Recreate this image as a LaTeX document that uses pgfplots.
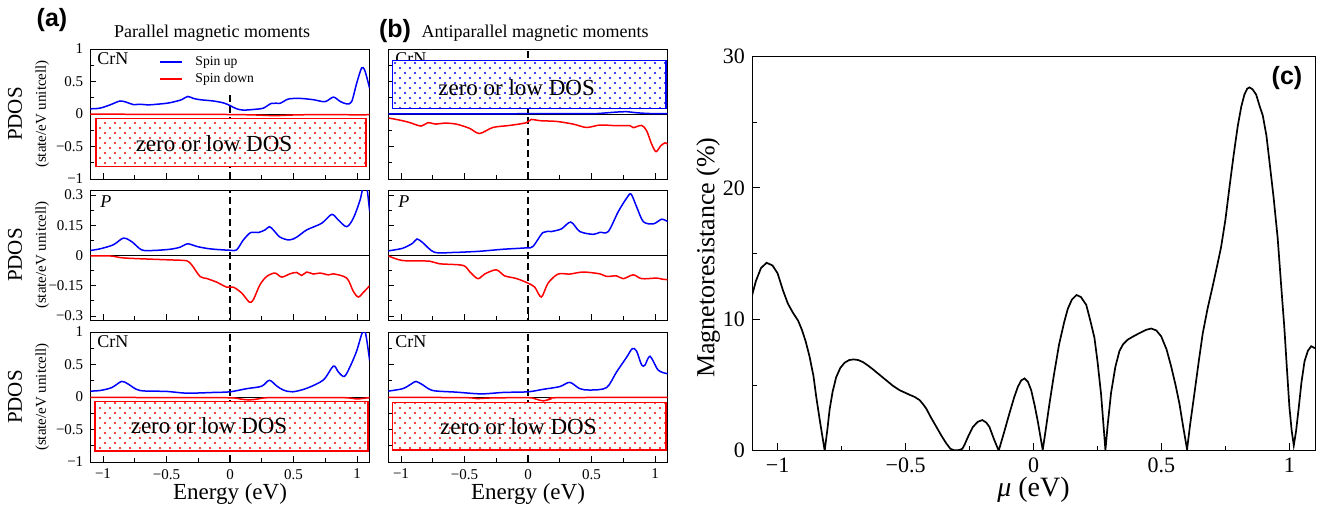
\documentclass[border=0pt]{standalone}
\usepackage{fontspec}
\setmainfont{Liberation Serif}
\newfontfamily\sansbf{Liberation Sans}
\usepackage{pgfplots}
\pgfplotsset{compat=1.18}
\usetikzlibrary{patterns}
\pgfdeclarepatternformonly{mydots}{\pgfqpoint{-0.7pt}{-0.7pt}}{\pgfqpoint{4.3pt}{4.3pt}}{\pgfqpoint{5pt}{5pt}}{%
  \pgfpathcircle{\pgfqpoint{0pt}{0pt}}{.6pt}%
  \pgfpathcircle{\pgfqpoint{2.5pt}{2.5pt}}{.6pt}%
  \pgfusepath{fill}}
\pgfplotsset{
  pdos/.style={scale only axis, width=139.7pt, height=65pt, xmin=-1.1, xmax=1.1,
    anchor=north west,
    xtick={-1,-0.5,0,0.5,1}, minor xtick={-0.75,-0.25,0.25,0.75},
    tick pos=left, tick align=inside, major tick length=3pt, minor tick length=1.8pt,
    every tick/.append style={black, line width=0.45pt},
    xticklabels={},
    ticklabel style={font=\fontsize{7.5}{8}\selectfont},
    ylabel style={at={(axis description cs:-0.221,0.5)}, anchor=center, align=center},
    xlabel style={at={(axis description cs:0.5,-0.245)}, anchor=center, font=\fontsize{11.5}{12}\selectfont},
  },
  fullr/.style={ymin=-1, ymax=1, ytick={-1,-0.5,0,0.5,1}, minor ytick={-0.75,-0.25,0.25,0.75}},
  pr/.style={ymin=-0.32, ymax=0.325, ytick={-0.3,-0.15,0,0.15,0.3}, minor ytick={-0.225,-0.075,0.075,0.225}},
  fulllab/.style={yticklabels={−1,−0.5,0,0.5,1}},
  plab/.style={yticklabels={−0.3,−0.15,0,0.15,0.3}},
  nolab/.style={yticklabels={}},
  pdosylab/.style={ylabel={\fontsize{10.5}{11}\selectfont PDOS\\\fontsize{7.5}{11}\selectfont (state/eV unitcell)}},
  energy/.style={xticklabels={−1,−0.5,0,0.5,1}, xlabel={Energy (eV)}},
  up/.style={blue, line width=0.75pt, smooth, tension=0.5, no marks, forget plot},
  dn/.style={red, line width=0.75pt, smooth, tension=0.5, no marks, forget plot},
}
\newcommand{\refl}{%
  \addplot[black, line width=0.45pt, forget plot] coordinates {(-1.1,0) (1.1,0)};
  \addplot[black, line width=0.6pt, dash pattern=on 3.5pt off 2pt, forget plot] coordinates {(0,-1) (0,1)};}
\newcommand{\zbox}[5]{%
  \fill[white] (axis cs:#2,#3) rectangle (axis cs:#4,#5);
  \draw[#1, line width=0.6pt, pattern=mydots, pattern color=#1] (axis cs:#2,#3) rectangle (axis cs:#4,#5);}
\begin{document}
\begin{tikzpicture}
\useasboundingbox (0,0) rectangle (662.5pt,-254pt);
\node[font=\sansbf\bfseries\fontsize{12.5}{13}\selectfont] at (26pt,-10pt) {(a)};
\node[font=\sansbf\bfseries\fontsize{12.5}{13}\selectfont] at (197.5pt,-15.5pt) {(b)};
\node[font=\fontsize{9}{10}\selectfont] at (106pt,-16.5pt) {Parallel magnetic moments};
\node[font=\fontsize{9}{10}\selectfont] at (267.5pt,-16.5pt) {Antiparallel magnetic moments};

% ---------- (a) top
\begin{axis}[pdos, fullr, fulllab, pdosylab, at={(45.15pt,-24.5pt)}]
\refl
% legend background
\fill[white] (axis description cs:0.214,0.99) rectangle (axis description cs:0.615,0.655);
\addplot[up] coordinates {(-1.1,0.08) (-1.024,0.09) (-0.945,0.14) (-0.866,0.20) (-0.814,0.18) (-0.761,0.145) (-0.709,0.15) (-0.643,0.14) (-0.577,0.15) (-0.499,0.165) (-0.446,0.185) (-0.381,0.22) (-0.333,0.27) (-0.289,0.24) (-0.236,0.22) (-0.131,0.20) (-0.05,0.17) (0,0.13) (0.052,0.08) (0.105,0.06) (0.184,0.07) (0.262,0.09) (0.328,0.165) (0.394,0.165) (0.459,0.23) (0.551,0.24) (0.656,0.22) (0.748,0.19) (0.814,0.26) (0.866,0.195) (0.919,0.155) (0.958,0.19) (0.997,0.47) (1.037,0.71) (1.063,0.66) (1.1,0.39)};
\addplot[dn] coordinates {(-1.1,-0.003) (-0.5,-0.005) (0,-0.008) (0.2,-0.015) (0.35,-0.025) (0.5,-0.015) (0.7,-0.008) (0.9,-0.01) (1.0,-0.015) (1.1,-0.01)};
% legend keys
\draw[blue, line width=0.75pt] (axis description cs:0.25,0.9) -- (axis description cs:0.329,0.9);
\draw[red, line width=0.75pt] (axis description cs:0.25,0.769) -- (axis description cs:0.329,0.769);
\node[anchor=west, inner sep=0pt, font=\fontsize{6.8}{7}\selectfont] at (axis description cs:0.375,0.9) {Spin up};
\node[anchor=west, inner sep=0pt, font=\fontsize{6.8}{7}\selectfont] at (axis description cs:0.375,0.769) {Spin down};
\node[anchor=north west, inner sep=0pt, font=\fontsize{9}{10}\selectfont] at (axis description cs:0.024,0.975) {CrN};
\zbox{red}{-1.055}{-0.07}{1.071}{-0.81}
\node[font=\fontsize{11.5}{12}\selectfont] at (axis cs:-0.126,-0.45) {zero or low DOS};
\end{axis}

% ---------- (a) middle
\begin{axis}[pdos, pr, plab, pdosylab, at={(45.15pt,-95pt)}]
\refl
\addplot[up] coordinates {(-1.1,0.025) (-1.024,0.033) (-0.919,0.053) (-0.84,0.086) (-0.774,0.069) (-0.696,0.028) (-0.604,0.025) (-0.472,0.031) (-0.394,0.041) (-0.333,0.058) (-0.262,0.045) (-0.157,0.033) (0,0.026) (0.052,0.028) (0.105,0.077) (0.163,0.114) (0.223,0.114) (0.276,0.127) (0.31,0.143) (0.341,0.127) (0.394,0.091) (0.467,0.077) (0.525,0.091) (0.604,0.127) (0.722,0.16) (0.801,0.204) (0.853,0.176) (0.919,0.143) (0.971,0.185) (1.024,0.275) (1.055,0.36) (1.075,0.35) (1.1,0.218)};
\addplot[dn] coordinates {(-1.1,-0.002) (-0.945,-0.002) (-0.84,-0.012) (-0.63,-0.018) (-0.42,-0.023) (-0.341,-0.026) (-0.302,-0.046) (-0.236,-0.104) (-0.184,-0.114) (-0.105,-0.132) (-0.026,-0.157) (0.026,-0.157) (0.092,-0.186) (0.152,-0.231) (0.184,-0.219) (0.236,-0.145) (0.289,-0.104) (0.354,-0.087) (0.407,-0.107) (0.472,-0.091) (0.525,-0.084) (0.564,-0.099) (0.604,-0.082) (0.656,-0.092) (0.709,-0.087) (0.774,-0.096) (0.814,-0.091) (0.919,-0.112) (0.971,-0.178) (1.01,-0.206) (1.05,-0.183) (1.1,-0.15)};
\node[anchor=north west, inner sep=0pt, font=\itshape\fontsize{9}{10}\selectfont] at (axis description cs:0.035,0.96) {P};
\end{axis}

% ---------- (a) bottom
\begin{axis}[pdos, fullr, fulllab, pdosylab, energy, at={(45.15pt,-166pt)}]
\refl
\addplot[up] coordinates {(-1.1,0.091) (-1.024,0.10) (-0.932,0.144) (-0.853,0.24) (-0.801,0.198) (-0.709,0.10) (-0.499,0.086) (-0.341,0.059) (-0.131,0.07) (0,0.08) (0.131,0.128) (0.249,0.166) (0.31,0.257) (0.367,0.171) (0.42,0.107) (0.493,0.08) (0.604,0.134) (0.735,0.262) (0.814,0.476) (0.853,0.385) (0.9,0.316) (0.945,0.465) (0.997,0.706) (1.042,0.99) (1.068,0.973) (1.1,0.556)};
\addplot[dn] coordinates {(-1.1,-0.005) (-0.4,-0.01) (0,-0.012) (0.08,-0.03) (0.15,-0.045) (0.22,-0.03) (0.3,-0.01) (0.6,-0.008) (0.9,-0.01) (1.0,-0.03) (1.05,-0.02) (1.1,-0.01)};
\node[anchor=north west, inner sep=0pt, font=\fontsize{9}{10}\selectfont] at (axis description cs:0.024,0.975) {CrN};
\zbox{red}{-1.063}{-0.072}{1.087}{-0.83}
\node[font=\fontsize{11.5}{12}\selectfont] at (axis cs:-0.165,-0.44) {zero or low DOS};
\end{axis}

% ---------- (b) top
\begin{axis}[pdos, fullr, nolab, at={(194.15pt,-24.5pt)}]
\refl
\addplot[up] coordinates {(-1.1,0.003) (0,0.004) (0.5,0.006) (0.6,0.015) (0.7,0.03) (0.78,0.035) (0.85,0.02) (0.95,0.008) (1.1,0.005)};
\addplot[dn] coordinates {(-1.097,-0.062) (-1.013,-0.093) (-0.934,-0.13) (-0.842,-0.186) (-0.789,-0.134) (-0.724,-0.155) (-0.658,-0.14) (-0.566,-0.155) (-0.461,-0.22) (-0.382,-0.30) (-0.276,-0.207) (-0.145,-0.176) (-0.013,-0.134) (0.026,-0.083) (0.092,-0.103) (0.224,-0.114) (0.355,-0.155) (0.461,-0.207) (0.566,-0.17) (0.697,-0.18) (0.803,-0.18) (0.829,-0.21) (0.895,-0.176) (0.934,-0.258) (0.974,-0.465) (1.008,-0.579) (1.045,-0.49) (1.079,-0.444) (1.1,-0.465)};
\node[anchor=north west, inner sep=0pt, font=\fontsize{9}{10}\selectfont] at (axis description cs:0.024,0.975) {CrN};
\zbox{blue}{-1.065}{0.82}{1.087}{0.088}
\node[font=\fontsize{11.5}{12}\selectfont] at (axis cs:-0.09,0.41) {zero or low DOS};
\end{axis}

% ---------- (b) middle
\begin{axis}[pdos, pr, nolab, at={(194.15pt,-95pt)}]
\refl
\addplot[up] coordinates {(-1.1,0.023) (-0.987,0.036) (-0.908,0.061) (-0.874,0.082) (-0.829,0.064) (-0.737,0.016) (-0.592,0.015) (-0.382,0.021) (-0.197,0.031) (-0.013,0.038) (0.039,0.045) (0.118,0.114) (0.184,0.119) (0.263,0.132) (0.337,0.166) (0.408,0.119) (0.513,0.105) (0.566,0.115) (0.632,0.119) (0.711,0.218) (0.776,0.284) (0.811,0.305) (0.855,0.242) (0.908,0.168) (0.987,0.157) (1.053,0.18) (1.1,0.168)};
\addplot[dn] coordinates {(-1.1,-0.002) (-0.987,-0.025) (-0.776,-0.028) (-0.697,-0.041) (-0.513,-0.049) (-0.461,-0.079) (-0.395,-0.115) (-0.342,-0.092) (-0.25,-0.071) (-0.184,-0.101) (-0.092,-0.114) (0,-0.137) (0.053,-0.157) (0.105,-0.206) (0.158,-0.137) (0.237,-0.092) (0.329,-0.092) (0.434,-0.082) (0.566,-0.091) (0.618,-0.104) (0.697,-0.101) (0.75,-0.115) (0.829,-0.096) (0.895,-0.115) (1.013,-0.112) (1.053,-0.117) (1.1,-0.12)};
\node[anchor=north west, inner sep=0pt, font=\itshape\fontsize{9}{10}\selectfont] at (axis description cs:0.035,0.96) {P};
\end{axis}

% ---------- (b) bottom
\begin{axis}[pdos, fullr, nolab, energy, at={(194.15pt,-166pt)}]
\refl
\addplot[up] coordinates {(-1.1,0.091) (-0.987,0.128) (-0.921,0.198) (-0.882,0.24) (-0.829,0.187) (-0.75,0.10) (-0.566,0.075) (-0.368,0.048) (-0.197,0.07) (0,0.08) (0.118,0.118) (0.25,0.16) (0.329,0.225) (0.408,0.128) (0.487,0.107) (0.618,0.144) (0.697,0.385) (0.776,0.61) (0.821,0.743) (0.855,0.706) (0.895,0.492) (0.921,0.492) (0.961,0.626) (1.026,0.412) (1.1,0.358)};
\addplot[dn] coordinates {(-1.1,-0.005) (-0.5,-0.01) (-0.4,-0.025) (-0.3,-0.015) (0,-0.01) (0.06,-0.03) (0.12,-0.06) (0.18,-0.03) (0.25,-0.01) (1.1,-0.005)};
\node[anchor=north west, inner sep=0pt, font=\fontsize{9}{10}\selectfont] at (axis description cs:0.024,0.975) {CrN};
\zbox{red}{-1.065}{-0.088}{1.087}{-0.815}
\node[font=\fontsize{11.5}{12}\selectfont] at (axis cs:-0.076,-0.45) {zero or low DOS};
\end{axis}

% ---------- (c)
\begin{axis}[at={(376pt,-28.25pt)}, anchor=north west, scale only axis, width=281.5pt, height=197.1pt,
  xmin=-1.1, xmax=1.1, ymin=0, ymax=30,
  xtick={-1,-0.5,0,0.5,1}, xticklabels={−1,−0.5,0,0.5,1}, minor xtick={-0.75,-0.25,0.25,0.75},
  ytick={0,10,20,30}, yticklabels={0,10,20,30}, minor ytick={5,15,25},
  tick pos=left, tick align=inside, major tick length=4pt, minor tick length=2.5pt,
  every tick/.append style={black, line width=0.45pt},
  ticklabel style={font=\fontsize{11}{12}\selectfont},
  xlabel={\textit{μ} (eV)}, ylabel={Magnetoresistance (\%)},
  xlabel style={at={(axis description cs:0.5,-0.1)}, anchor=center, font=\fontsize{14}{15}\selectfont},
  ylabel style={at={(axis description cs:-0.078,0.49)}, anchor=center, font=\fontsize{13}{14}\selectfont}]
\addplot[black, line width=0.85pt, no marks] coordinates {(-1.1,11.8) (-1.085,12.9) (-1.065,13.9) (-1.043,14.3) (-1.02,14.1) (-1.0,13.5) (-0.979,12.2) (-0.96,11.2) (-0.94,10.5) (-0.92,9.9) (-0.905,9.2) (-0.89,8.3) (-0.875,7.15) (-0.86,5.7) (-0.849,4.1) (-0.835,2.3) (-0.816,0) (-0.805,1.7) (-0.797,3.1) (-0.785,4.5) (-0.771,5.6) (-0.755,6.3) (-0.738,6.7) (-0.72,6.9) (-0.703,6.95) (-0.685,6.9) (-0.667,6.75) (-0.648,6.5) (-0.628,6.2) (-0.6,5.75) (-0.575,5.35) (-0.55,4.95) (-0.523,4.6) (-0.5,4.4) (-0.484,4.25) (-0.465,4.1) (-0.445,3.85) (-0.43,3.5) (-0.419,3.2) (-0.4,2.5) (-0.38,1.83) (-0.36,1.15) (-0.341,0.56) (-0.325,0.15) (-0.31,0.03) (-0.29,0.05) (-0.278,0.15) (-0.27,0.43) (-0.255,1.1) (-0.237,1.8) (-0.218,2.2) (-0.2,2.33) (-0.185,2.15) (-0.172,1.8) (-0.155,0.9) (-0.136,0.0) (-0.115,1.4) (-0.094,2.85) (-0.075,4.1) (-0.061,4.87) (-0.048,5.35) (-0.035,5.5) (-0.022,5.25) (-0.009,4.6) (0.005,3.4) (0.017,2.2) (0.036,0.05) (0.05,1.9) (0.0625,3.6) (0.08,5.8) (0.1,8.1) (0.12,9.8) (0.134,10.8) (0.15,11.5) (0.168,11.85) (0.185,11.7) (0.206,11.1) (0.222,9.9) (0.238,8.6) (0.25,6.8) (0.264,4.3) (0.281,0.05) (0.29,2.0) (0.303,4.4) (0.32,6.4) (0.336,7.6) (0.35,8.1) (0.368,8.45) (0.39,8.7) (0.414,8.95) (0.44,9.2) (0.46,9.3) (0.48,9.15) (0.499,8.7) (0.52,7.7) (0.538,6.4) (0.555,5.0) (0.570,3.6) (0.585,1.8) (0.600,0.1) (0.612,2.0) (0.629,4.4) (0.645,6.7) (0.661,8.9) (0.68,10.8) (0.701,12.6) (0.72,14.3) (0.733,15.5) (0.75,17.6) (0.766,20.1) (0.782,22.5) (0.798,24.7) (0.812,26.2) (0.824,27.1) (0.835,27.55) (0.844,27.65) (0.856,27.5) (0.870,27.1) (0.884,26.2) (0.896,25.5) (0.91,24.0) (0.922,22.0) (0.938,19.3) (0.954,16.2) (0.968,12.5) (0.980,9.4) (0.99,6.3) (1.0,3.3) (1.009,1.5) (1.017,0.4) (1.026,1.5) (1.036,3.2) (1.047,5.2) (1.059,6.8) (1.072,7.6) (1.085,7.95) (1.1,7.8)};
\end{axis}
\node[font=\sansbf\bfseries\fontsize{12.5}{13}\selectfont] at (643.5pt,-39pt) {(c)};
\end{tikzpicture}
\end{document}
